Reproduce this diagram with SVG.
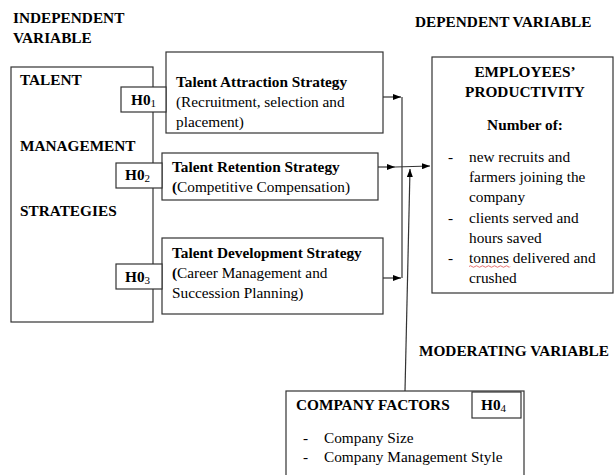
<svg xmlns="http://www.w3.org/2000/svg" width="614" height="475" viewBox="0 0 614 475" font-family="'Liberation Serif', 'Times New Roman', Times, serif">
  <style>
    text { font-family: 'Liberation Serif', 'Times New Roman', Times, serif; fill: #000; font-size: 15.3px; }
    .h { font-weight: bold; }
    .b { font-weight: bold; }
    .sub { font-size: 11px; font-weight: normal; }
    .box { fill: #fff; stroke: #333; stroke-width: 1.2; }
    .conn { fill: none; stroke: #333; stroke-width: 1.2; }
  </style>
  <defs>
    <marker id="arrow" markerWidth="8" markerHeight="6" refX="8" refY="3" orient="auto" markerUnits="userSpaceOnUse">
      <path d="M0,0 L8,3 L0,6 Z" fill="#000"/>
    </marker>
  </defs>
  <rect width="614" height="475" fill="#fff"/>

  <!-- section headings -->
  <text class="h" x="13" y="23">INDEPENDENT</text>
  <text class="h" x="13" y="43">VARIABLE</text>
  <text class="h" x="415" y="27">DEPENDENT VARIABLE</text>
  <text class="h" x="419" y="356">MODERATING VARIABLE</text>

  <!-- connectors -->
  <g id="connectors">
    <line class="conn" x1="383" y1="97" x2="401" y2="97" marker-end="url(#arrow)"/>
    <line class="conn" x1="383" y1="278" x2="401" y2="278" marker-end="url(#arrow)"/>
    <line class="conn" x1="402" y1="97" x2="402" y2="278"/>
    <line class="conn" x1="378" y1="167" x2="395" y2="167" marker-end="url(#arrow)"/>
    <line class="conn" x1="395" y1="167" x2="430" y2="166" marker-end="url(#arrow)"/>
    <line class="conn" x1="405" y1="391" x2="410" y2="169" marker-end="url(#arrow)"/>
    <line class="conn" x1="117" y1="94" x2="121" y2="94"/>
  </g>

  <!-- independent variable -->
  <g id="talent-management">
    <rect class="box" x="11" y="67" width="142" height="255"/>
    <text class="h" x="20" y="85">TALENT</text>
    <text class="h" x="20" y="151">MANAGEMENT</text>
    <text class="h" x="20" y="216">STRATEGIES</text>
  </g>

  <g id="attraction">
    <rect class="box" x="166" y="52" width="217" height="81"/>
    <text class="b" x="176" y="87">Talent Attraction Strategy</text>
    <text x="176" y="107">(Recruitment, selection and</text>
    <text x="176" y="127">placement)</text>
  </g>
  <g id="h01">
    <rect class="box" x="121" y="87" width="45" height="25"/>
    <text class="b" x="131" y="105">H0<tspan class="sub" dy="2">1</tspan></text>
  </g>

  <g id="retention">
    <rect class="box" x="162" y="153" width="216" height="47"/>
    <text class="b" x="172" y="172">Talent Retention Strategy</text>
    <text x="172" y="192"><tspan font-weight="bold">(</tspan>Competitive Compensation)</text>
  </g>
  <g id="h02">
    <rect class="box" x="116" y="163" width="46" height="25"/>
    <text class="b" x="125" y="180">H0<tspan class="sub" dy="2">2</tspan></text>
  </g>

  <g id="development">
    <rect class="box" x="162" y="238" width="221" height="76"/>
    <text class="b" x="172" y="258">Talent Development Strategy</text>
    <text x="172" y="278"><tspan font-weight="bold">(</tspan>Career Management and</text>
    <text x="172" y="298">Succession Planning)</text>
  </g>
  <g id="h03">
    <rect class="box" x="116" y="264" width="46" height="25"/>
    <text class="b" x="125" y="282">H0<tspan class="sub" dy="2">3</tspan></text>
  </g>

  <!-- dependent variable -->
  <g id="productivity">
    <rect class="box" x="432" y="57" width="181" height="236"/>
    <text class="h" x="525" y="77" text-anchor="middle">EMPLOYEES’</text>
    <text class="h" x="525" y="97" text-anchor="middle">PRODUCTIVITY</text>
    <text class="b" x="525" y="130" text-anchor="middle">Number of:</text>
    <text x="448" y="162">-</text>
    <text x="469" y="162">new recruits and</text>
    <text x="469" y="182">farmers joining the</text>
    <text x="469" y="202">company</text>
    <text x="448" y="223">-</text>
    <text x="469" y="223">clients served and</text>
    <text x="469" y="243">hours saved</text>
    <text x="448" y="263">-</text>
    <text x="469" y="263">tonnes delivered and</text>
    <text x="469" y="283">crushed</text>
    <path d="M469,266.5 q1.5,-1.5 3,0 t3,0 t3,0 t3,0 t3,0 t3,0 t3,0 t3,0 t3,0 t3,0 t3,0 t3,0 t3,0 t2,0" fill="none" stroke="#e05050" stroke-width="0.8"/>
  </g>

  <!-- moderating variable -->
  <g id="company-factors">
    <rect class="box" x="286" y="391" width="238" height="90"/>
    <text class="b" x="296" y="410">COMPANY FACTORS</text>
    <text x="303" y="443">-</text>
    <text x="324" y="443">Company Size</text>
    <text x="303" y="462">-</text>
    <text x="324" y="462">Company Management Style</text>
  </g>
  <g id="h04">
    <rect class="box" x="472" y="392" width="49" height="26"/>
    <text class="b" x="481" y="410">H0<tspan class="sub" dy="2">4</tspan></text>
  </g>
</svg>
